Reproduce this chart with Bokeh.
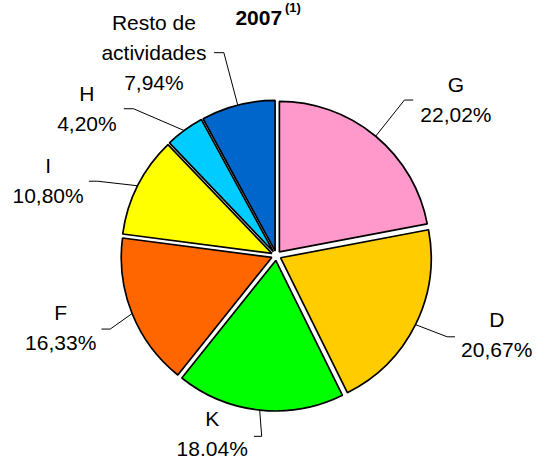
import math
from bokeh.plotting import figure
from bokeh.models import Range1d
from bokeh.core.properties import value
from bokeh.embed import file_html
from bokeh.resources import INLINE

# ---- data ----
categories = ["G", "D", "K", "F", "I", "H", "Resto de actividades"]
shares = [22.02, 20.67, 18.04, 16.33, 10.80, 4.20, 7.94]
share_labels = ["22,02%", "20,67%", "18.04%", "16,33%", "10,80%", "4,20%", "7,94%"]
name_lines = [["G"], ["D"], ["K"], ["F"], ["I"], ["H"], ["Resto de", "actividades"]]
colors = ["#FF99CC", "#FFCC00", "#00FF00", "#FF6600", "#FFFF00", "#00CCFF", "#0066CC"]
title_text = "2007"
title_note = "(1)"

# ---- layout (reference pixel coords, y down, 553 x 476 canvas) ----
REF_W, REF_H = 553, 476
W, H = 537, 460
CX, CY_IMG = 284, 264
R = 155
EXPLODE = 5
FONT = "Liberation Sans"
FS = "21px"
LINE_GAP = 31
# first-line centre of each label, leader elbow and leader end
label_pos = [(469, 87), (511, 330), (218, 433), (62, 323), (49, 171), (89, 96), (158, 23)]
leader_elbow = [(416, 103), (460, 348), (269, 451), (113, 340), (100, 187), (137, 112), (230, 54)]
leader_end = [(425, 103), (468, 348), (261, 451), (104, 340), (91, 187), (127, 112), (220, 54)]


def yd(y_img):
    return REF_H - y_img


p = figure(width=W, height=H, output_backend="svg", toolbar_location=None,
           x_range=Range1d(0, REF_W), y_range=Range1d(0, REF_H),
           min_border=0)
p.axis.visible = False
p.grid.visible = False
p.outline_line_color = None
p.background_fill_color = "white"

CY = yd(CY_IMG)
total = sum(shares)
cum = 0.0
for i, v in enumerate(shares):
    th0 = cum / total * 2 * math.pi
    th1 = (cum + v) / total * 2 * math.pi
    mid = (th0 + th1) / 2
    cum += v
    wx = CX + EXPLODE * math.sin(mid)
    wy = CY + EXPLODE * math.cos(mid)
    p.wedge(x=wx, y=wy, radius=R, start_angle=math.pi / 2 - th0,
            end_angle=math.pi / 2 - th1, direction="clock",
            fill_color=colors[i], line_color="black", line_width=1.7)
    # leader line
    sx = CX + (R + EXPLODE) * math.sin(mid)
    sy = CY + (R + EXPLODE) * math.cos(mid)
    ex, ey = leader_elbow[i]
    tx, ty = leader_end[i]
    p.line(x=[sx, ex, tx], y=[sy, yd(ey), yd(ty)], line_color="black", line_width=1)
    # labels
    lx, ly = label_pos[i]
    lines = name_lines[i] + [share_labels[i]]
    for k, t in enumerate(lines):
        p.text(x=[lx], y=[yd(ly + k * LINE_GAP)], text=[t], text_font=value(FONT),
               text_font_size=FS, text_align="center", text_baseline="middle",
               text_color="black")

# title
p.text(x=[266], y=[yd(18.5)], text=[title_text], text_font=value(FONT),
       text_font_size="21px", text_font_style="bold", text_align="center",
       text_baseline="alphabetic", text_color="black")
p.text(x=[293], y=[yd(7.5)], text=[title_note], text_font=value(FONT),
       text_font_size="13px", text_font_style="bold", text_align="left",
       text_baseline="alphabetic", text_color="black")

open("out.html", "w").write(file_html(p, INLINE))
